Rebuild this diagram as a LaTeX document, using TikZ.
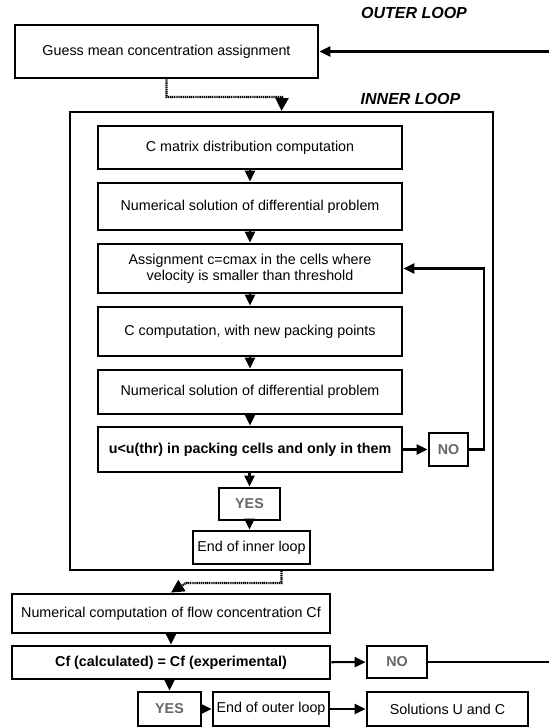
\documentclass[tikz,border=0pt]{standalone}
\usepackage{fontspec}
\setmainfont{Liberation Sans}
\usetikzlibrary{arrows.meta}

\begin{document}
\begin{tikzpicture}[x=1pt, y=-1pt,
  >={Triangle[width=10pt,length=11pt]},
  every node/.style={font=\fontsize{14.3}{15.8}\selectfont},
  box/.style={draw, line width=2.8pt, inner sep=0pt, align=center},
  answer/.style={box, font=\fontsize{14.3}{15.8}\selectfont\bfseries, text=black!60},
  loopname/.style={font=\fontsize{16}{18}\selectfont\bfseries\itshape},
  flow/.style={->, line width=2.2pt},
  dots/.style={line width=2.2pt, dash pattern=on 1.2pt off 0.7pt, -{Triangle[width=13pt,length=13pt]}}]
  \useasboundingbox (0,0) rectangle (549,728);

  \node[loopname] (outer) at (414, 13) {OUTER LOOP};
  \node[box, minimum width=303pt, minimum height=53pt] (guess) at (166.5, 51.5) {Guess mean concentration assignment};

  \node[loopname] (innerlbl) at (410.5, 99) {INNER LOOP};
  \node[draw, line width=2.2pt, minimum width=423pt, minimum height=458pt] (inner) at (281.5, 341) {};

  \node[box, minimum width=304pt, minimum height=43pt] (cmat) at (250, 147.5) {C matrix distribution computation};
  \node[box, minimum width=304pt, minimum height=47pt] (num1) at (250, 206.5) {Numerical solution of differential problem};
  \node[box, minimum width=304pt, minimum height=49pt] (assign) at (250, 268.5) {Assignment c=cmax in the cells where\\velocity is smaller than threshold};
  \node[box, minimum width=304pt, minimum height=49pt] (ccomp) at (250, 331.5) {C computation, with new packing points};
  \node[box, minimum width=304pt, minimum height=44pt] (num2) at (250, 392) {Numerical solution of differential problem};
  \node[box, minimum width=304pt, minimum height=45pt, font=\fontsize{14.3}{15.8}\selectfont\bfseries] (test1) at (250, 449.5) {u<u(thr) in packing cells and only in them};
  \node[answer, minimum width=39pt, minimum height=33pt] (no1) at (448.5, 449.5) {NO};
  \node[answer, minimum width=61pt, minimum height=32pt] (yes1) at (249.5, 504) {YES};
  \node[box, minimum width=117pt, minimum height=33pt] (endin) at (251.5, 547.5) {End of inner loop};

  \node[box, minimum width=318pt, minimum height=39pt] (numflow) at (171, 613.5) {Numerical computation of flow concentration Cf};
  \node[box, minimum width=318pt, minimum height=33pt, font=\fontsize{14.3}{15.8}\selectfont\bfseries] (test2) at (171, 662.5) {Cf (calculated) = Cf (experimental)};
  \node[answer, minimum width=60pt, minimum height=32pt] (no2) at (397, 662) {NO};
  \node[answer, minimum width=63pt, minimum height=34pt] (yes2) at (169.5, 709) {YES};
  \node[box, minimum width=116pt, minimum height=34pt] (endout) at (271, 709) {End of outer loop};
  \node[box, minimum width=161pt, minimum height=34pt] (sol) at (447.5, 709) {Solutions U and C};

  \coordinate (d1) at (282, 97);
  \coordinate (d3) at (186, 583);
  \coordinate (fb) at (484, 268.5);
  \coordinate (back1) at (549, 662);
  \coordinate (back2) at (549, 51.5);

  % outer loop entry
  \draw[flow] (back2) -- (guess);
  \draw[dots] (guess.south) |- (d1) -- (inner.north);

  % inner loop
  \draw[flow] (cmat) -- (num1);
  \draw[flow] (num1) -- (assign);
  \draw[flow] (assign) -- (ccomp);
  \draw[flow] (ccomp) -- (num2);
  \draw[flow] (num2) -- (test1);
  \draw[flow] (test1) -- (no1);
  \draw[flow] (no1.east) -| (fb) -- (assign.east);
  \draw[flow] (test1.south -| yes1.north) -- (yes1.north);
  \draw[flow] (yes1.south) -- (yes1.south |- endin.north);

  % back to outer loop
  \draw[dots] (inner.south) |- (d3) -- (numflow.north);
  \draw[flow] (numflow) -- (test2);
  \draw[flow] (test2) -- (no2);
  \draw[line width=2.2pt] (no2) -- (back1);
  \draw[flow] (yes2.north |- test2.south) -- (yes2.north);
  \draw[flow] (yes2) -- (endout);
  \draw[flow] (endout) -- (sol);
\end{tikzpicture}
\end{document}
